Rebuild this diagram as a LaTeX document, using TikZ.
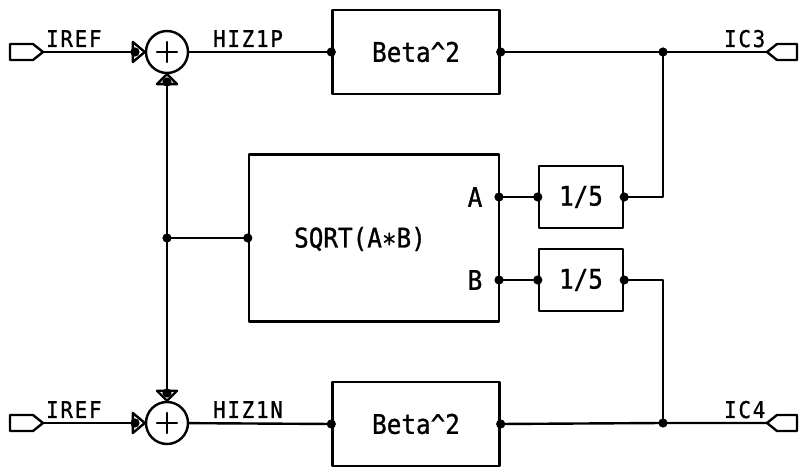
\documentclass[tikz,border=0pt]{standalone}
\usepackage{fontspec}
\newfontfamily\boxfont[FakeStretch=0.9,FakeBold=1]{DejaVu Sans Mono}
\newfontfamily\netfont[FakeStretch=0.9,FakeBold=1,LetterSpace=8]{DejaVu Sans Mono}
\begin{document}
\begin{tikzpicture}[x=.5pt,y=-.5pt,line width=1.2pt,line cap=round,line join=round,
  blk/.style={draw,rectangle,inner sep=0pt,font=\boxfont\fontsize{13.5}{15}\selectfont},
  btxt/.style={inner sep=0pt,font=\boxfont\fontsize{13.5}{15}\selectfont},
  ntxt/.style={inner sep=0pt,anchor=base west,font=\netfont\fontsize{11.5}{13}\selectfont},
  summer/.style={draw,circle,minimum size=21pt,inner sep=0pt,
    path picture={\draw (path picture bounding box.center) +(-5pt,0) -- +(5pt,0) +(0,-5pt) -- +(0,5pt);}}]
  \useasboundingbox (0,0) rectangle (799,475);
  \coordinate (pIn1) at (43,52); \coordinate (pIn2) at (43,423); \coordinate (pOut3) at (767,52); \coordinate (pOut4) at (767,423);
  \coordinate (tinP) at (135,52); \coordinate (tupP) at (167,82); \coordinate (tdnN) at (167,393); \coordinate (tinN) at (135,423);
  \coordinate (jL) at (167,238); \coordinate (jT) at (663,52); \coordinate (jB) at (663,423);
  \coordinate (pinA) at (499,197); \coordinate (pinB) at (499,280);
  % blocks
  \node[summer] (sumP) at (167,52) {}; \node[summer] (sumN) at (167,423) {};
  \node[blk,minimum width=83.5pt,minimum height=42pt] (betaP) at (416,52) {Beta\textasciicircum 2};
  \node[blk,minimum width=83.5pt,minimum height=42pt] (betaN) at (416,424) {Beta\textasciicircum 2};
  \node[blk,minimum width=125pt,minimum height=83.5pt] (sqrt) at (374,238) {};
  \node[btxt] (sqrtL) at (360,239) {SQRT(A∗B)};
  \node[btxt] (labA) at (475,197) {A}; \node[btxt] (labB) at (475,280) {B};
  \node[blk,minimum width=42pt,minimum height=31pt] (divA) at (581,197) {1/5};
  \node[blk,minimum width=42pt,minimum height=31pt] (divB) at (581,280) {1/5};
  % wires
  \draw (pIn1) -- (tinP); \draw (pIn2) -- (tinN);
  \draw (sumP) -- (betaP.west); \draw (sumN) -- (betaN.west);
  \draw (tupP) -- (tdnN); \draw (jL) -- (sqrt.west);
  \draw (betaP.east) -- (jT) -- (pOut3); \draw (jT) |- (divA.east); \draw (pinA) -- (divA.west);
  \draw (pinB) -- (divB.west); \draw (divB.east) -| (jB); \draw (betaN.east) -- (jB) -- (pOut4);
  % summer inputs and ports
  \draw[fill=white] (sumP.west) -- ++(-12,-10) -- ++(0,20) -- cycle;
  \draw[fill=white] (sumN.west) -- ++(-12,-10) -- ++(0,20) -- cycle;
  \draw[fill=white] (sumP.south) -- ++(-10,10) -- ++(20,0) -- cycle;
  \draw[fill=white] (sumN.north) -- ++(-10,-10) -- ++(20,0) -- cycle;
  \draw (pIn1) -- ++(-10,-8) -- ++(-23,0) -- ++(0,16) -- ++(23,0) -- cycle;
  \draw (pIn2) -- ++(-10,-8) -- ++(-23,0) -- ++(0,16) -- ++(23,0) -- cycle;
  \draw (pOut3) -- ++(10,-8) -- ++(20,0) -- ++(0,16) -- ++(-20,0) -- cycle;
  \draw (pOut4) -- ++(10,-8) -- ++(20,0) -- ++(0,16) -- ++(-20,0) -- cycle;
  % net names
  \node[ntxt] (nIref1) at (45,47) {IREF}; \node[ntxt] (nIref2) at (45,418) {IREF};
  \node[ntxt] (nHizP) at (212,47) {HIZ1P}; \node[ntxt] (nHizN) at (212,418) {HIZ1N};
  \node[ntxt] (nIc3) at (723,47) {IC3}; \node[ntxt] (nIc4) at (723,418) {IC4};
  % junction dots
  \foreach \p in {tinP,tinN,tupP,tdnN,jL,jT,jB,pinA,pinB,sqrt.west,betaP.west,betaP.east,betaN.west,betaN.east,divA.west,divA.east,divB.west,divB.east}
    \fill (\p) circle (2.3pt);
\end{tikzpicture}
\end{document}
